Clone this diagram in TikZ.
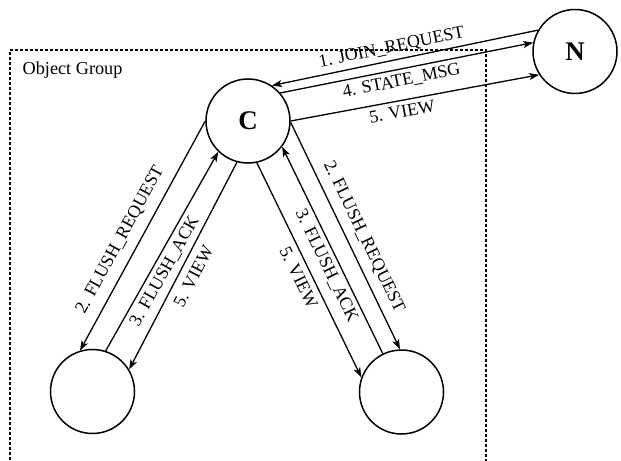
\documentclass[tikz,border=0pt]{standalone}
\usepackage{fontspec}
\setmainfont{Liberation Serif}
\usetikzlibrary{arrows.meta}
\begin{document}
\begin{tikzpicture}[x=1bp,y=-1bp,
  proc/.style={circle,draw,line width=1.5bp,minimum size=84bp,inner sep=0pt,font=\fontsize{27}{30}\selectfont\bfseries},
  msg/.style={line width=1.3bp,-{Stealth[length=10bp,width=7bp,inset=2.5bp]}},
  lbl/.style={sloped,font=\fontsize{18}{21}\selectfont,inner sep=4.5bp},
  grp/.style={line width=1.3bp,dash pattern=on 3bp off 2bp}]
\useasboundingbox (0,0) rectangle (621,461);
\clip (0,0) rectangle (621,461);
\coordinate (g1) at (10,470);
\coordinate (g2) at (10,50);
\coordinate (g3) at (486,50);
\coordinate (g4) at (486,470);
\draw[grp] (g1) -- (g2) -- (g3) -- (g4);
\node[anchor=west,font=\fontsize{18.3}{21}\selectfont,inner sep=0pt] (og) at (22.5,70) {Object Group};
\node[proc] (C) at (248,121) {C};
\node[proc] (N) at (575,51.5) {N};
\node[proc] (L) at (92.5,391.5) {};
\node[proc] (R) at (401.5,392) {};
% C <-> N
\draw[msg] (N.150) -- node[lbl,above,pos=0.54] {1. JOIN\_REQUEST} (C.56);
\draw[msg] (C.41) -- node[lbl,below,pos=0.47] {4. STATE\_MSG} (N.168);
\draw[msg] (C.0) -- node[lbl,below,pos=0.44] {5. VIEW} (N.213);
% C <-> L
\draw[msg] (C.180) -- node[lbl,above=5bp,pos=0.555] {2. FLUSH\_REQUEST} (L.107);
\draw[msg] (L.72) -- node[lbl,below,pos=0.43] {3. FLUSH\_ACK} (C.226);
\draw[msg] (C.255) -- node[lbl,below=3bp,pos=0.52] {5. VIEW} (L.31);
% C <-> R
\draw[msg] (C.-2) -- node[lbl,above=3.5bp,pos=0.535] {2. FLUSH\_REQUEST} (R.92);
\draw[msg] (R.116) -- node[lbl,below,pos=0.45] {3. FLUSH\_ACK} (C.-37);
\draw[msg] (C.-78) -- node[lbl,below=1.5bp,pos=0.51] {5. VIEW} (R.160);
\end{tikzpicture}
\end{document}
